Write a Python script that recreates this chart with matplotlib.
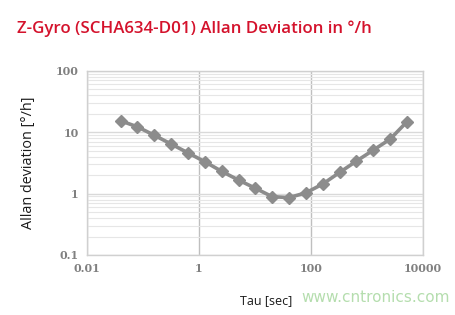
import matplotlib
matplotlib.use("Agg")
import matplotlib.pyplot as plt
from matplotlib.ticker import FixedLocator, NullFormatter, LogLocator

tau = [0.04, 0.08, 0.16, 0.32, 0.64, 1.28, 2.56, 5.12, 10.24, 20.48, 40.96,
       81.92, 163.84, 327.68, 655.36, 1310.72, 2621.44, 5242.88]
adev = [15.3, 12.2, 8.9, 6.4, 4.6, 3.3, 2.3, 1.66, 1.22, 0.89, 0.86,
        1.03, 1.43, 2.21, 3.38, 5.1, 7.7, 14.8]

x_ticks = [0.01, 1, 100, 10000]
x_labels = ["0.01", "1", "100", "10000"]
y_ticks = [0.1, 1, 10, 100]
y_labels = ["0.1", "1", "10", "100"]

fig = plt.figure(figsize=(4.55, 3.15), dpi=100)
ax = fig.add_axes([0.191, 0.1905, 0.738, 0.585])

ax.set_xscale("log")
ax.set_yscale("log")
ax.set_xlim(0.01, 10000)
ax.set_ylim(0.1, 100)

ax.plot(tau, adev, color="#8c8c8c", lw=2.6, marker="D", ms=6,
        markerfacecolor="#8c8c8c", markeredgecolor="#8c8c8c", zorder=3)

ax.xaxis.set_major_locator(FixedLocator(x_ticks))
ax.set_xticklabels(x_labels)
ax.xaxis.set_minor_locator(FixedLocator([]))
ax.yaxis.set_major_locator(FixedLocator(y_ticks))
ax.set_yticklabels(y_labels)
ax.yaxis.set_minor_locator(LogLocator(base=10, subs=range(2, 10)))
ax.yaxis.set_minor_formatter(NullFormatter())

ax.grid(True, which="major", axis="x", color="#bfbfbf", lw=1.0)
ax.grid(True, which="major", axis="y", color="#d9d9d9", lw=1.0)
ax.grid(True, which="minor", axis="y", color="#e6e6e6", lw=0.8)
ax.set_axisbelow(True)

for s in ax.spines.values():
    s.set_color("#d0d0d0")
    s.set_linewidth(1.0)

ax.tick_params(which="both", length=0, pad=6)
for lab in ax.get_xticklabels() + ax.get_yticklabels():
    lab.set_fontfamily("DejaVu Serif")
    lab.set_fontsize(8)
    lab.set_color("#808080")
    lab.set_fontweight("bold")

ax.set_ylabel("Allan deviation [°/h]", fontsize=10.4, family="Open Sans",
              color="#1a1a1a", labelpad=14)
fig.text(0.527, 0.045, "Tau [sec]", fontsize=9, family="Open Sans",
         color="#1a1a1a", ha="left", va="center")
fig.text(0.662, 0.055, "www.cntronics.com", fontsize=11, family="DejaVu Sans",
         color="#a8d8a0", alpha=0.85, ha="left", va="center")

fig.text(0.037, 0.91, "Z-Gyro (SCHA634-D01) Allan Deviation in °/h",
         fontsize=12.2, family="Open Sans", fontweight="semibold",
         color="#d4122c", ha="left", va="center")

fig.savefig("out.png", dpi=100)
